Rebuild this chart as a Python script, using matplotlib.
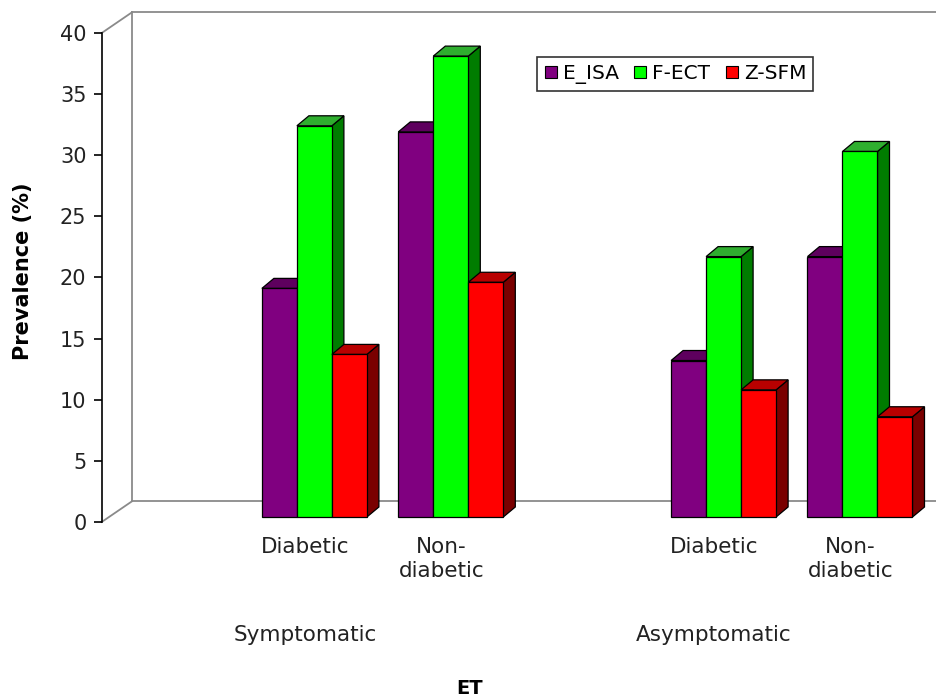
"""Prevalence by ET status and diabetes, drawn as Excel-style 3D columns."""
import matplotlib

matplotlib.use("Agg")
import matplotlib.pyplot as plt
from matplotlib.lines import Line2D
from matplotlib.patches import Polygon

plt.rcParams["font.family"] = ["DejaVu Sans"]

# --- data ---
groups = ["Symptomatic", "Asymptomatic"]
subgroups = ["Diabetic", "Non-\ndiabetic"]
series = ["E_ISA", "F-ECT", "Z-SFM"]
e_isa = [18.7, 31.5, 12.8, 21.3]   # sym-diab, sym-non, asym-diab, asym-non
f_ect = [32.0, 37.7, 21.3, 29.9]
z_sfm = [13.3, 19.2, 10.4, 8.2]
values = [e_isa, f_ect, z_sfm]

front = ["#800080", "#00ff00", "#ff0000"]
top = ["#5e005e", "#2fae2f", "#b80000"]
side = ["#4a004a", "#007c00", "#7a0000"]

W, H = 937, 698
PX_CAT = 136.4       # pixels per category slot
PX_UNIT = 12.22      # pixels per percentage point
AX_L, AX_B, AX_T = 101.7, 522.0, 33.0   # pixel positions of axis line
X0 = (AX_L - 178.0) / PX_CAT
X1 = (W - 178.0) / PX_CAT

BAR_W = 35 / PX_CAT
BAR_DX, BAR_DY = 12 / PX_CAT, 10 / PX_UNIT     # column depth
BAR_BASE = 5 / PX_UNIT                          # columns sit a little behind the front
WALL_DX, WALL_DY = 30 / PX_CAT, 20.5 / PX_UNIT


def py(pixel_y):
    """figure pixel row -> value units"""
    return (AX_B - pixel_y) / PX_UNIT


fig = plt.figure(figsize=(W / 100, H / 100), dpi=100)
ax = fig.add_axes([AX_L / W, 1 - AX_B / H, (W - AX_L) / W, (AX_B - AX_T) / H])
ax.set_xlim(X0, X1)
ax.set_ylim(0, 40)
for s in ("top", "right", "bottom"):
    ax.spines[s].set_visible(False)
ax.spines["left"].set_linewidth(1.2)
ax.set_yticks(range(0, 41, 5))
ax.tick_params(axis="y", direction="out", length=6, width=1.2, pad=5, labelsize=15,
               labelcolor="#222222")
ax.set_xticks([])

# back wall and floor outline
grey = "#8a8a8a"
wx = X0 + WALL_DX
kw = dict(color=grey, lw=1.3, clip_on=False, zorder=1)
ax.plot([X0, wx], [40, 40 + WALL_DY], **kw)
ax.plot([wx, X1 + 0.1], [40 + WALL_DY, 40 + WALL_DY], **kw)
ax.plot([wx, wx], [WALL_DY, 40 + WALL_DY], **kw)
ax.plot([X0, wx], [0, WALL_DY], **kw)
ax.plot([wx, X1 + 0.1], [WALL_DY, WALL_DY], **kw)

# columns, left to right so each front face hides the previous side face
z = 2
for i in range(len(groups) * len(subgroups)):
    slot = (i // len(subgroups)) * 3 + i % len(subgroups) + 1
    for j in range(len(series)):
        v = values[j][i]
        x = slot + (j - 1.5) * BAR_W
        y0, y1 = BAR_BASE, BAR_BASE + v
        faces = [
            ([(x + BAR_W, y0), (x + BAR_W + BAR_DX, y0 + BAR_DY),
              (x + BAR_W + BAR_DX, y1 + BAR_DY), (x + BAR_W, y1)], side[j]),
            ([(x, y1), (x + BAR_DX, y1 + BAR_DY),
              (x + BAR_W + BAR_DX, y1 + BAR_DY), (x + BAR_W, y1)], top[j]),
            ([(x, y0), (x + BAR_W, y0), (x + BAR_W, y1), (x, y1)], front[j]),
        ]
        for pts, c in faces:
            ax.add_patch(Polygon(pts, closed=True, facecolor=c, edgecolor="black",
                                 lw=0.9, zorder=z, clip_on=False))
            z += 1

# category labels
for g, gname in enumerate(groups):
    for s, sname in enumerate(subgroups):
        slot = g * 3 + s + 1
        ax.text(slot - 0.07, py(537), sname, ha="center", va="top", fontsize=15.5,
                color="#222222", linespacing=1.25)
    ax.text(g * 3 + 1 - 0.07, py(635), gname, ha="center", va="center", fontsize=15.5,
            color="#222222")

fig.text(23 / W, 1 - 271 / H, "Prevalence (%)", rotation=90, ha="center", va="center",
         fontsize=15, fontweight="bold")
fig.text(470 / W, 1 - 688 / H, "ET", ha="center", va="center", fontsize=14,
         fontweight="bold")

handles = [Line2D([], [], ls="", marker="s", markersize=9, markerfacecolor=c,
                  markeredgecolor="black", markeredgewidth=0.8) for c in front]
leg = fig.legend(handles, series, loc="upper left", bbox_to_anchor=(537 / W, 1 - 57 / H),
                 ncol=3, fontsize=14.5, frameon=True, fancybox=False, edgecolor="black",
                 borderaxespad=0, borderpad=0.35, handlelength=0.7, handletextpad=0.25,
                 columnspacing=0.7)
leg.get_frame().set_linewidth(1.2)

fig.savefig("out.png", dpi=100)
